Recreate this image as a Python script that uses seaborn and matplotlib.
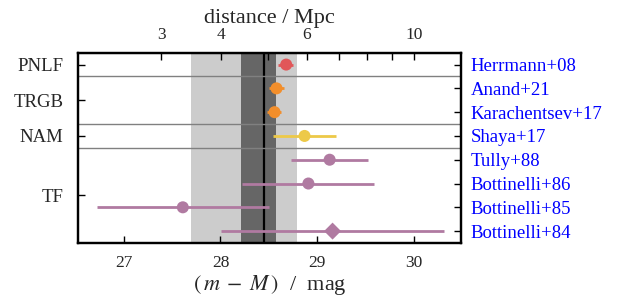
import numpy as np
import pandas as pd
import seaborn as sns
import matplotlib.pyplot as plt
from matplotlib.ticker import FixedLocator, FixedFormatter

# distance moduli
refs = ["Herrmann+08", "Anand+21", "Karachentsev+17", "Shaya+17",
        "Tully+88", "Bottinelli+86", "Bottinelli+85", "Bottinelli+84"]
methods = ["PNLF", "TRGB", "TRGB", "NAM", "TF", "TF", "TF", "TF"]
mu = [28.68, 28.58, 28.56, 28.87, 29.13, 28.91, 27.61, 29.16]
mu_lo = [28.60, 28.50, 28.48, 28.54, 28.73, 28.22, 26.72, 28.01]
mu_hi = [28.75, 28.66, 28.63, 29.20, 29.53, 29.59, 28.50, 30.31]
shape = ["o", "o", "o", "o", "o", "o", "o", "D"]

group_names = ["PNLF", "TRGB", "NAM", "TF"]
group_pos = [0, 1.5, 3, 5.5]
separators = [0.5, 2.5, 3.5]

mu_mean = 28.45
band_1sig = (28.21, 28.57)
band_2sig = (27.69, 28.79)

palette = {"PNLF": "#e15759", "TRGB": "#f28e2b", "NAM": "#edc948", "TF": "#b07aa1"}

df = pd.DataFrame({"ref": refs, "method": methods, "mu": mu,
                   "lo": mu_lo, "hi": mu_hi, "shape": shape})
df["row"] = np.arange(len(df))

sns.set_style("ticks", {"axes.axisbelow": False})
plt.rcParams["font.family"] = ["Liberation Serif", "DejaVu Serif"]
plt.rcParams["mathtext.fontset"] = "stix"

fig = plt.figure(figsize=(6.18, 3.04), dpi=100)
ax = fig.add_axes([0.127, 0.2007, 0.619, 0.626])
ax.set_axisbelow(False)

ax.axvspan(*band_2sig, color="#cccccc", lw=0, zorder=0)
ax.axvspan(*band_1sig, color="#666666", lw=0, zorder=0)
ax.axvline(mu_mean, color="black", lw=1.6, zorder=1)
for s in separators:
    ax.axhline(s, color="#808080", lw=1.0, zorder=1)

for _, r in df.iterrows():
    ax.hlines(r["row"], r["lo"], r["hi"], color=palette[r["method"]], lw=2.0, zorder=2)

sns.scatterplot(data=df, x="mu", y="row", hue="method", style="shape",
                palette=palette, markers={"o": "o", "D": "D"}, s=75,
                edgecolor="none", legend=False, ax=ax, zorder=3)

ax.set_xlim(26.53, 30.49)
ax.set_ylim(7.5, -0.5)
ax.set_xticks([27, 28, 29, 30])
ax.set_yticks(group_pos)
ax.set_yticklabels(group_names, fontsize=13.5)
ax.tick_params(axis="x", labelsize=12.5, direction="in", length=5, width=1.0,
               color="black", pad=9)
ax.tick_params(axis="y", direction="in", length=5, width=1.0, color="black", pad=11)
ax.set_xlabel(r"$(\,m\;-\;M\,)$  /  mag", fontsize=16, labelpad=1)
ax.set_ylabel("")
for sp in ax.spines.values():
    sp.set_linewidth(1.6)
    sp.set_color("black")

ax2 = ax.twinx()
ax2.set_axisbelow(False)
ax2.set_ylim(7.5, -0.5)
ax2.set_yticks(df["row"])
ax2.set_yticklabels(refs, fontsize=13.5, color="blue")
ax2.tick_params(axis="y", direction="in", length=5, width=1.0, color="black", pad=7)
for sp in ax2.spines.values():
    sp.set_linewidth(1.6)
    sp.set_color("black")

top = ax.secondary_xaxis("top", functions=(lambda m: 10 ** ((m + 5) / 5) / 1e6,
                                           lambda d: 5 * np.log10(np.clip(d, 1e-3, None) * 1e6) - 5))
top.xaxis.set_major_locator(FixedLocator([3, 4, 5, 6, 7, 8, 9, 10]))
top.xaxis.set_major_formatter(FixedFormatter(["3", "4", "", "6", "", "", "", "10"]))
top.xaxis.set_minor_locator(FixedLocator([]))
top.tick_params(labelsize=12.5, direction="in", length=5, width=1.0, color="black", pad=7)
top.set_xlabel("distance / Mpc", fontsize=16, labelpad=3)

fig.savefig("out.png", dpi=100)
